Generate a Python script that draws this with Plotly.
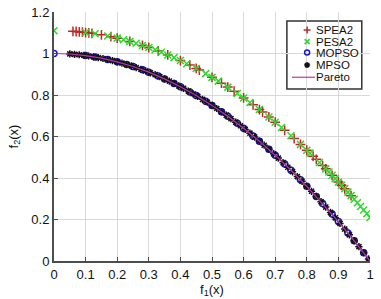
import plotly.graph_objects as go

spea2_f1 = [0.06,0.07,0.08,0.09,0.1,0.11,0.12,0.15,0.18,0.2,0.24,0.28,0.3,0.33,0.36,0.4,0.43,0.45,0.46,0.5,0.53,0.55,0.57,0.6,0.63,0.65,0.66,0.68,0.7,0.73,0.76,0.78,0.8,0.82,0.83,0.85,0.86,0.88,0.9,0.91,0.92,0.94]
spea2_f2 = [1.107,1.106,1.104,1.103,1.101,1.099,1.097,1.090,1.081,1.074,1.058,1.039,1.029,1.012,0.993,0.966,0.944,0.928,0.920,0.885,0.857,0.838,0.818,0.786,0.753,0.730,0.718,0.694,0.669,0.630,0.590,0.562,0.534,0.505,0.490,0.460,0.444,0.413,0.381,0.365,0.348,0.315]

pesa2_f1 = [0.0,0.1,0.13,0.17,0.2,0.22,0.24,0.26,0.28,0.3,0.32,0.34,0.36,0.38,0.4,0.42,0.45,0.48,0.5,0.52,0.55,0.58,0.6,0.62,0.65,0.68,0.7,0.72,0.75,0.78,0.8,0.81,0.84,0.86,0.87,0.88,0.89,0.9,0.91,0.92,0.93,0.94,0.95,0.96,0.97,0.98,0.99,1.0]
pesa2_f2 = [1.110,1.101,1.095,1.084,1.074,1.066,1.058,1.049,1.039,1.029,1.018,1.006,0.993,0.980,0.966,0.951,0.928,0.903,0.885,0.867,0.838,0.807,0.786,0.764,0.730,0.694,0.669,0.643,0.604,0.562,0.534,0.520,0.475,0.444,0.429,0.413,0.397,0.381,0.365,0.348,0.332,0.315,0.298,0.281,0.263,0.246,0.228,0.210]

mopso_f1 = [0.0,0.1,0.13,0.17,0.2,0.23,0.25,0.28,0.3,0.33,0.35,0.38,0.4,0.43,0.45,0.48,0.5,0.53,0.55,0.58,0.6,0.63,0.65,0.68,0.7,0.73,0.75,0.78,0.8,0.83,0.85,0.88,0.9,0.93,0.95,0.98,1.0]
mopso_f2 = [1.0,0.99,0.983,0.971,0.96,0.947,0.9375,0.922,0.91,0.891,0.8775,0.856,0.84,0.815,0.7975,0.770,0.75,0.719,0.6975,0.664,0.64,0.603,0.5775,0.538,0.51,0.467,0.4375,0.392,0.36,0.311,0.2775,0.226,0.19,0.135,0.0975,0.040,0.0]

mpso_f1 = [0.05,0.065,0.08,0.095,0.11,0.125,0.14,0.155,0.17,0.185,0.2,0.215,0.23,0.245,0.26,0.275,0.29,0.305,0.32,0.335,0.35,0.365,0.38,0.395,0.41,0.425,0.44,0.455,0.47,0.485,0.5,0.515,0.53,0.545,0.56,0.575,0.59,0.605,0.62,0.635,0.65,0.665,0.68,0.695,0.71,0.725,0.74,0.755,0.77,0.785,0.8,0.815,0.83,0.845,0.86,0.875,0.89,0.905,0.92,0.935,0.95,0.965,0.98,0.995]
mpso_f2 = [0.998,0.996,0.994,0.991,0.988,0.984,0.980,0.976,0.971,0.966,0.960,0.954,0.947,0.940,0.932,0.924,0.916,0.907,0.898,0.888,0.878,0.867,0.856,0.844,0.832,0.819,0.806,0.793,0.779,0.765,0.750,0.735,0.719,0.703,0.686,0.669,0.652,0.634,0.616,0.597,0.578,0.558,0.538,0.517,0.496,0.474,0.452,0.430,0.407,0.384,0.360,0.336,0.311,0.286,0.260,0.234,0.208,0.181,0.154,0.126,0.098,0.069,0.040,0.010]

pareto_f1 = [0.0,0.05,0.1,0.15,0.2,0.25,0.3,0.35,0.4,0.45,0.5,0.55,0.6,0.65,0.7,0.75,0.8,0.85,0.9,0.95,1.0]
pareto_f2 = [1.0,0.9975,0.99,0.9775,0.96,0.9375,0.91,0.8775,0.84,0.7975,0.75,0.6975,0.64,0.5775,0.51,0.4375,0.36,0.2775,0.19,0.0975,0.0]

x_ticks = [0,0.1,0.2,0.3,0.4,0.5,0.6,0.7,0.8,0.9,1]
x_labels = ["0","0.1","0.2","0.3","0.4","0.5","0.6","0.7","0.8","0.9","1"]
y_ticks = [0,0.2,0.4,0.6,0.8,1.0,1.2]
y_labels = ["0","0.2","0.4","0.6","0.8","1","1.2"]

series_names = ["SPEA2", "PESA2", "MOPSO", "MPSO", "Pareto"]

FONT = "Liberation Sans, Arial"
colors = {"SPEA2": "#c02828", "PESA2": "#2ed82e", "MOPSO": "#1a1acc", "MPSO": "#111111"}
symbols = {"SPEA2": "cross-thin", "PESA2": "x-thin", "MOPSO": "circle-open", "MPSO": "asterisk-open"}
pareto_color = "#bb33bb"

def mstyle(name, size):
    return dict(symbol=symbols[name], size=size, color=colors[name],
                line=dict(color=colors[name], width=1.5))

fig = go.Figure()
fig.add_trace(go.Scatter(x=spea2_f1, y=spea2_f2, mode="markers", name="SPEA2", marker=mstyle("SPEA2", 7)))
fig.add_trace(go.Scatter(x=pesa2_f1, y=pesa2_f2, mode="markers", name="PESA2", marker=mstyle("PESA2", 7)))
fig.add_trace(go.Scatter(x=mopso_f1, y=mopso_f2, mode="markers", name="MOPSO", marker=mstyle("MOPSO", 6)))
fig.add_trace(go.Scatter(x=mpso_f1, y=mpso_f2, mode="markers", name="MPSO", marker=mstyle("MPSO", 6)))
fig.add_trace(go.Scatter(x=pareto_f1, y=pareto_f2, mode="lines", name="Pareto",
    line=dict(color=pareto_color, width=1.2)))

# compact legend drawn on an overlay axis spanning the plot area (0..1 both ways)
lg_x0, lg_x1, lg_y0, lg_y1 = 0.737, 0.974, 0.691, 0.964
key_x = 0.801
text_x = 0.826
rows = [0.928, 0.881, 0.837, 0.787, 0.738]
fig.add_shape(type="rect", xref="paper", yref="paper", x0=lg_x0, x1=lg_x1, y0=lg_y0, y1=lg_y1,
              fillcolor="white", line=dict(color="#333333", width=1.5), layer="between")
for name, ry in zip(series_names, rows):
    if name == "Pareto":
        fig.add_trace(go.Scatter(x=[0.753, 0.826], y=[ry, ry], mode="lines", xaxis="x2", yaxis="y2",
                                 line=dict(color=pareto_color, width=1.2), showlegend=False, hoverinfo="skip"))
    else:
        fig.add_trace(go.Scatter(x=[key_x], y=[ry], mode="markers", xaxis="x2", yaxis="y2",
                                 marker=mstyle(name, 5), showlegend=False, hoverinfo="skip"))
    fig.add_annotation(x=text_x, y=ry, xref="paper", yref="paper", text=name, showarrow=False,
                       xanchor="left", yanchor="middle", borderpad=0,
                       font=dict(size=11.5, color="#111111", family=FONT))

axis_common = dict(showgrid=True, gridcolor="#d9d9d9", gridwidth=1, zeroline=False,
                   showline=True, linecolor="#4d4d4d", linewidth=2, ticks="inside",
                   ticklen=4, tickcolor="#4d4d4d", automargin=False,
                   tickfont=dict(size=13, color="#111111", family=FONT))

fig.update_layout(
    xaxis=dict(range=[0, 1], tickvals=x_ticks, ticktext=x_labels,
               title=dict(text="f<sub>1</sub>(x)", font=dict(size=13, color="#111111", family=FONT), standoff=2),
               **axis_common),
    yaxis=dict(range=[0, 1.2], tickvals=y_ticks, ticktext=y_labels,
               title=dict(text="f<sub>2</sub>(x)", font=dict(size=13, color="#111111", family=FONT), standoff=10),
               **axis_common),
    xaxis2=dict(overlaying="x", range=[0, 1], visible=False, fixedrange=True),
    yaxis2=dict(overlaying="y", range=[0, 1], visible=False, fixedrange=True),
    width=381, height=299, margin=dict(l=54, r=11, t=12, b=38),
    plot_bgcolor="white", paper_bgcolor="white", showlegend=False)

fig.write_html("out.html", config={"displayModeBar": False},
               post_script="document.body.style.margin='0';document.body.style.overflow='hidden';")
